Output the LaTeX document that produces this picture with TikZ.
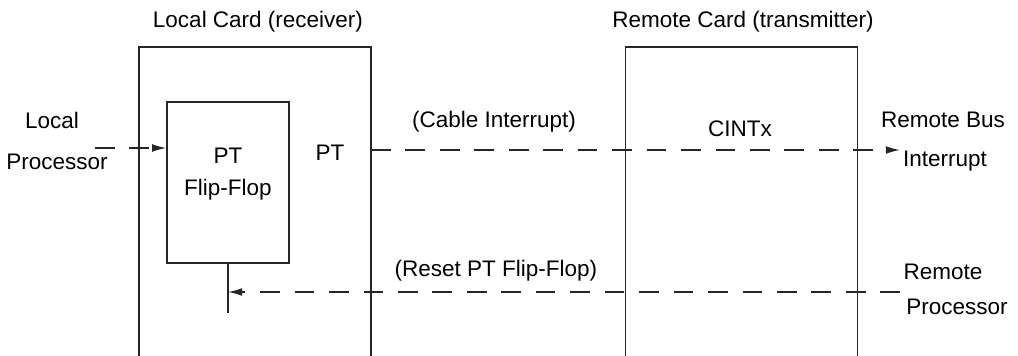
\documentclass[tikz,border=0pt]{standalone}
\usepackage{fontspec}
\setmainfont{Liberation Sans}
\usetikzlibrary{arrows.meta}
\begin{document}
\begin{tikzpicture}[x=0.025cm, y=-0.025cm, font=\fontsize{16}{18}\selectfont,
  card/.style={rectangle, draw=black!85, line width=1pt, minimum width=5.8cm, minimum height=8.2cm},
  ffbox/.style={rectangle, draw=black!85, line width=1pt, minimum width=3.05cm, minimum height=4.03cm},
  txt/.style={inner sep=0pt},
  sig/.style={line width=1pt, draw=black!85},
  dsig/.style={sig, dash pattern=on 14pt off 10.5pt, -{Latex[length=10pt,width=5.5pt]}}]
\useasboundingbox[fill=white] (0,0) rectangle (1018,355);
% the two cards
\node[card] (local) at (255,211) {};
\node[card] (remote) at (741.5,211) {};
\node[txt] (localttl) at (258,22) {Local Card (receiver)};
\node[txt] (remotettl) at (743,22) {Remote Card (transmitter)};
% PT flip-flop
\node[ffbox] (ff) at (228,182.5) {};
\node[txt] (ffpt) at (228,156) {PT};
\node[txt] (ffname) at (228,190) {Flip-Flop};
\node[txt] (pt) at (330,153) {PT};
\node[txt] (cint) at (740,129) {CINTx};
% outside labels
\node[txt] (lp1) at (52,120) {Local};
\node[txt] (lp2) at (57,162) {Processor};
\node[txt] (rb1) at (943,120) {Remote Bus};
\node[txt] (rb2) at (945,161) {Interrupt};
\node[txt] (rp1) at (943,272) {Remote};
\node[txt] (rp2) at (957,307) {Processor};
\node[txt] (cable) at (494,122) {(Cable Interrupt)};
\node[txt] (reset) at (496,271) {(Reset PT Flip-Flop)};
% signal ends
\coordinate (lpin) at (95,148);
\coordinate (ptout) at (371,150);
\coordinate (rbout) at (900,150);
\coordinate (rpin) at (900,292);
\coordinate (ffstub) at (228,313);
% signals
\draw[dsig] (lpin) -- (lpin -| ff.west);
\draw[dsig] (ptout) -- (rbout);
\draw[sig] (ff.south) -- (ffstub);
\draw[dsig] (rpin) -- (ff.south |- rpin);
\end{tikzpicture}
\end{document}
